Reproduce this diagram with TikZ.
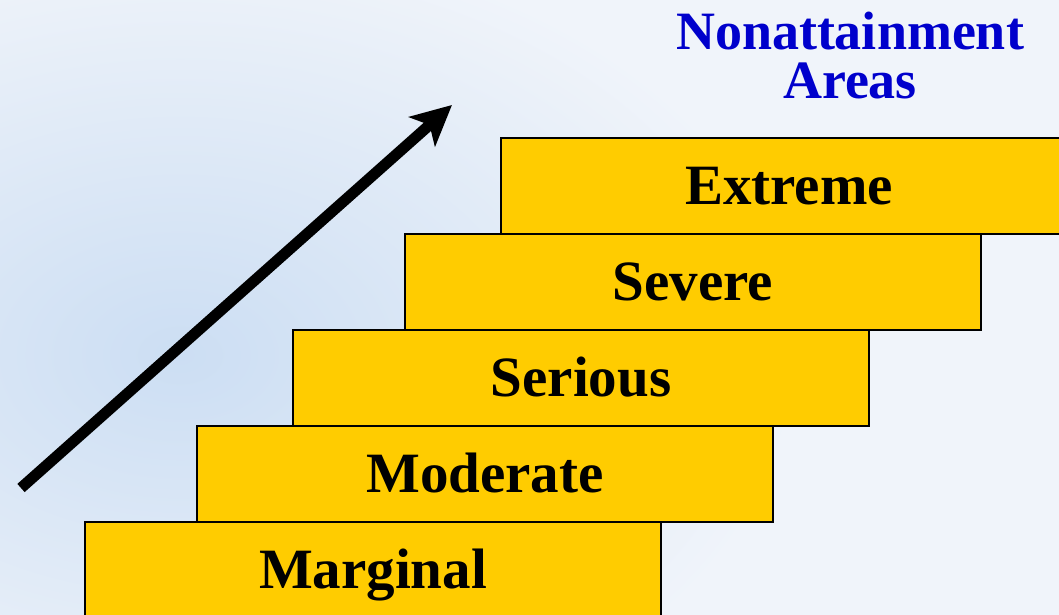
\documentclass[tikz,border=0pt]{standalone}
\usepackage{fontspec}
\setmainfont{Liberation Serif}
\usetikzlibrary{positioning, arrows.meta}
\definecolor{stairgold}{RGB}{255,204,0}
\definecolor{titleblue}{RGB}{0,0,204}
\definecolor{skyblue}{RGB}{204,222,243}
\definecolor{skywhite}{RGB}{240,244,250}

\begin{document}
\begin{tikzpicture}[
        x=1pt, y=1pt,
        stepbox/.style={rectangle, draw=black, line width=2.5pt, fill=stairgold, minimum width=576pt, minimum height=96pt, outer sep=0pt, inner sep=0pt, anchor=north west, font=\fontsize{57}{60}\selectfont\bfseries, text height=37pt, text depth=0pt},
        title/.style={anchor=north, align=center, inner sep=0pt, text=titleblue, font=\fontsize{54}{49}\selectfont\bfseries},
        arrow/.style={-{Stealth[length=40pt, width=39pt, inset=10pt]}, line width=11pt}
    ]
        \clip (0,0) rectangle (1059,615);
        \fill[skywhite] (0,0) rectangle (1059,615);
        \shade[inner color=skyblue, outer color=skywhite] (180,260) ellipse (620 and 420);

        \node[stepbox] (EXT) at (501,477) {Extreme};
        \node[stepbox, xshift=-96pt] (SEV) at (EXT.south west) {Severe};
        \node[stepbox, xshift=-112pt] (SER) at (SEV.south west) {Serious};
        \node[stepbox, xshift=-96pt] (MOD) at (SER.south west) {Moderate};
        \node[stepbox, xshift=-112pt] (MAR) at (MOD.south west) {Marginal};

        \node[title] (TITLE) at (850,603) {Nonattainment\\Areas};

        \coordinate (START) at (21,127);
        \coordinate (TIP) at (452,510);
        \draw[arrow] (START) -- (TIP);
    \end{tikzpicture}
\end{document}
